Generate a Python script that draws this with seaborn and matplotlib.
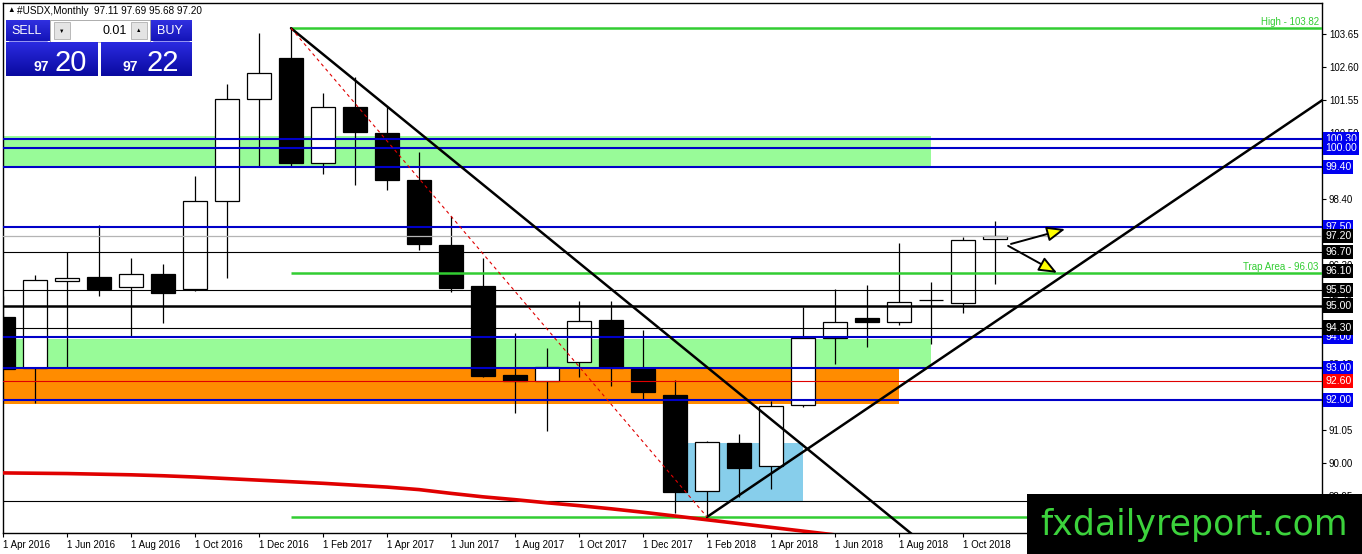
import numpy as np
import pandas as pd
import matplotlib
matplotlib.use("Agg")
import matplotlib.pyplot as plt
import seaborn as sns
from matplotlib.patches import Rectangle
from matplotlib.colors import LinearSegmentedColormap

# USDX monthly candles, index 0 = Apr 2016 ... 31 = Nov 2018
opens  = [94.64, 93.00, 95.78, 95.91, 95.60, 96.01, 95.53, 98.33, 101.57, 102.88, 99.54, 101.32,
          100.49, 99.00, 96.93, 95.63, 92.80, 92.61, 93.21, 94.54, 92.99, 92.16, 89.11, 90.63,
          89.90, 91.84, 93.97, 94.61, 94.48, 95.18, 95.09, 97.11]
highs  = [95.30, 95.98, 96.70, 97.55, 96.52, 96.33, 99.12, 102.05, 103.67, 103.82, 101.76, 102.27,
          101.35, 99.89, 97.85, 96.52, 94.13, 93.65, 95.15, 95.15, 94.23, 92.64, 90.70, 90.92,
          91.97, 94.96, 95.53, 95.66, 97.00, 95.75, 97.18, 97.69]
lows   = [92.99, 91.90, 93.00, 95.30, 94.04, 94.45, 95.45, 95.88, 99.44, 99.44, 99.19, 98.84,
          98.68, 96.77, 95.43, 92.73, 91.59, 91.00, 92.73, 92.45, 92.03, 88.41, 88.28, 88.92,
          89.17, 91.78, 93.15, 93.69, 94.39, 93.78, 94.77, 95.68]
closes = [92.99, 95.82, 95.88, 95.53, 96.01, 95.40, 98.33, 101.57, 102.40, 99.54, 101.32, 100.52,
          99.00, 96.96, 95.56, 92.76, 92.61, 93.05, 94.51, 93.02, 92.26, 89.08, 90.67, 89.84,
          91.81, 93.97, 94.48, 94.48, 95.12, 95.18, 97.09, 97.20]

tick_months = [0, 2, 4, 6, 8, 10, 12, 14, 16, 18, 20, 22, 24, 26, 28, 30]
tick_labels = ['1 Apr 2016', '1 Jun 2016', '1 Aug 2016', '1 Oct 2016', '1 Dec 2016',
               '1 Feb 2017', '1 Apr 2017', '1 Jun 2017', '1 Aug 2017', '1 Oct 2017',
               '1 Dec 2017', '1 Feb 2018', '1 Apr 2018', '1 Jun 2018', '1 Aug 2018',
               '1 Oct 2018']
price_ticks = [88.95, 90.00, 91.05, 92.10, 93.15, 94.20, 95.25, 96.30, 97.35, 98.40,
               99.45, 100.50, 101.55, 102.60, 103.65]

# moving average (red curve)
ma_month = list(range(27))
ma_value = [89.68, 89.67, 89.66, 89.64, 89.62, 89.59, 89.55, 89.50, 89.45, 89.40, 89.35,
            89.29, 89.23, 89.15, 89.03, 88.92, 88.83, 88.73, 88.64, 88.54, 88.43, 88.31,
            88.19, 88.07, 87.95, 87.83, 87.71]

# horizontal levels
blue_levels = [100.30, 100.00, 99.40, 97.50, 94.00, 93.00, 92.00]
black_levels = [96.70, 95.50, 94.30, 88.80]
thick_level = 95.00
gray_level = 97.20
red_level = 92.60
green_levels = [103.82, 96.03, 88.28]   # start at Jan 2017

# right side price labels
blue_boxes = [100.30, 100.00, 99.40, 97.50, 94.00, 93.00, 92.00]
black_boxes = [97.20, 96.70, 96.10, 95.50, 95.00, 94.30]
red_boxes = [92.60]

# zones: (month from, month to, price low, price high, colour)
zones = [(-0.5, 29.0, 99.40, 100.40, '#98FB98'),
         (-0.5, 29.0, 93.00, 93.95, '#98FB98'),
         (-0.5, 28.0, 91.87, 93.00, '#FF8C00'),
         (21.0, 25.0, 88.79, 90.63, '#87CEEB')]

# trendlines (month, price) pairs
down_line = [(9, 103.82), (29, 87.24)]
up_line = [(22, 88.28), (41.3, 101.58)]
dash_line = [(9, 103.82), (22, 88.28)]
arrows = [((31.5, 96.96), (33.19, 97.43)), ((31.41, 96.90), (32.94, 96.04))]

sns.set_style("white")
plt.rcParams['font.family'] = ['Liberation Sans', 'DejaVu Sans']

W, H = 1362, 554
fig = plt.figure(figsize=(W / 100, H / 100), dpi=100)
ax = fig.add_axes([3 / W, 21 / H, 1319 / W, 530 / H])

# zones behind everything
for x0, x1, y0, y1, col in zones:
    ax.fill_between([x0, x1], y0, y1, color=col, lw=0, zorder=1)

# candles
df = pd.DataFrame({'o': opens, 'h': highs, 'l': lows, 'c': closes})
df['bottom'] = df[['o', 'c']].min(axis=1)
df['height'] = (df['c'] - df['o']).abs()
df['face'] = np.where(df['c'] >= df['o'], 'white', 'black')
ax.vlines(df.index, df['l'], df['h'], color='black', lw=0.9, zorder=3)
ax.bar(df.index, df['height'], bottom=df['bottom'], width=0.76, color=df['face'],
       edgecolor='black', linewidth=0.9, zorder=4)

# levels
xmax = 1319 / 32
for p in blue_levels:
    ax.axhline(p, color='#0000C8', lw=1.5, zorder=5)
for p in black_levels:
    ax.axhline(p, color='black', lw=0.8, zorder=5)
ax.axhline(thick_level, color='black', lw=1.8, zorder=5)
ax.axhline(gray_level, color='#B4B4B4', lw=0.9, zorder=5)
ax.axhline(red_level, color='#E00000', lw=0.8, zorder=5)
for p in green_levels:
    ax.hlines(p, 9, xmax, color='#32CD32', lw=1.8, zorder=5)

ax.annotate('High - 103.82', xy=(xmax - 0.1, 103.82), xytext=(0, 1), textcoords='offset points',
            ha='right', va='bottom', color='#32CD32', fontsize=7, zorder=8)
ax.annotate('Trap Area - 96.03', xy=(xmax - 0.1, 96.03), xytext=(0, 1), textcoords='offset points',
            ha='right', va='bottom', color='#32CD32', fontsize=7, zorder=8)

# moving average
sns.lineplot(x=ma_month, y=ma_value, ax=ax, color='#E00000', lw=2.6, zorder=6, legend=False)

# trendlines
for pts, kw in [(down_line, dict(color='black', lw=1.8)),
                (up_line, dict(color='black', lw=1.8)),
                (dash_line, dict(color='#E00000', lw=0.8, dashes=(3, 3)))]:
    xs, ys = zip(*pts)
    ax.plot(xs, ys, zorder=7, **kw)

for start, end in arrows:
    ax.annotate('', xy=end, xytext=start,
                arrowprops=dict(arrowstyle='-|>,head_length=1.1,head_width=0.45',
                                fc='#FFFF00', ec='black', lw=1.4, mutation_scale=10,
                                shrinkA=0, shrinkB=0),
                zorder=8)

# axes
ax.set_xlim(0, xmax)
ax.set_ylim(87.77, 104.62)
ax.yaxis.tick_right()
ax.set_yticks(price_ticks)
ax.set_yticklabels([f'{p:.2f}' for p in price_ticks])
ax.set_xticks(tick_months)
ax.set_xticklabels(tick_labels)
for lab in ax.get_xticklabels():
    lab.set_horizontalalignment('left')
ax.tick_params(axis='both', labelsize=7, length=3, width=0.8, direction='out',
               color='black', labelcolor='black', pad=2)
ax.tick_params(axis='y', right=True, left=False)
ax.tick_params(axis='x', bottom=True)
for s in ax.spines.values():
    s.set_color('black')
    s.set_linewidth(1)
ax.grid(False)

# price label boxes on the right
ytr = ax.get_yaxis_transform()
for boxes, col in [(blue_boxes, '#0000F0'), (black_boxes, 'black'), (red_boxes, '#FF0000')]:
    for p in boxes:
        ax.text(1.0 + 3 / 1319, p, f'{p:.2f}', transform=ytr, ha='left', va='center',
                color='white', fontsize=7.6, clip_on=False, zorder=20,
                bbox=dict(boxstyle='square,pad=0.2', fc=col, ec='none'))

# overlay in pixel coordinates: trade panel, header, watermark
ov = fig.add_axes([0, 0, 1, 1], zorder=10)
ov.patch.set_alpha(0)
ov.axis('off')

def grad_box(x0, y0, x1, y1, top, bot):
    cmap = LinearSegmentedColormap.from_list('g', [top, bot])
    ov.imshow(np.linspace(0, 1, 40).reshape(-1, 1), cmap=cmap, aspect='auto',
              extent=[x0, x1, y1, y0], zorder=2)

ov.text(7, 11, '\u25B2', fontsize=5.5, ha='left', va='center', color='black')
ov.text(17, 11, '#USDX,Monthly  97.11 97.69 95.68 97.20', fontsize=7.2, ha='left',
        va='center', color='black')

grad_box(6, 20, 50, 41, '#3030E0', '#1414B8')
grad_box(150, 20, 192, 41, '#3030E0', '#1414B8')
ov.add_patch(Rectangle((50, 20), 100, 22, fc='white', ec='#A0A0A0', lw=0.6, zorder=2))
ov.add_patch(Rectangle((54, 22), 16, 17, fc='#E4E4E4', ec='#B0B0B0', lw=0.6, zorder=3))
ov.add_patch(Rectangle((131, 22), 16, 17, fc='#E4E4E4', ec='#B0B0B0', lw=0.6, zorder=3))
ov.text(62, 31, '\u25BC', fontsize=4, ha='center', va='center', color='black', zorder=4)
ov.text(139, 30, '\u25B2', fontsize=4, ha='center', va='center', color='black', zorder=4)
ov.text(127, 31, '0.01', fontsize=9, ha='right', va='center', color='black', zorder=4)
ov.text(27, 31, 'SELL', fontsize=9, ha='center', va='center', color='white', zorder=4)
ov.text(170, 31, 'BUY', fontsize=9, ha='center', va='center', color='white', zorder=4)
ov.plot([9, 47], [41, 41], color='#8080F0', lw=0.6, zorder=4)
ov.plot([153, 189], [41, 41], color='#8080F0', lw=0.6, zorder=4)

grad_box(6, 42, 98, 76, '#2A2AE0', '#0A0AA0')
grad_box(101, 42, 192, 76, '#2A2AE0', '#0A0AA0')
ov.text(49, 71, '97', fontsize=10, ha='right', va='baseline', color='white',
        fontweight='bold', zorder=4)
ov.text(55, 71, '20', fontsize=21, ha='left', va='baseline', color='white', zorder=4)
ov.text(138, 71, '97', fontsize=10, ha='right', va='baseline', color='white',
        fontweight='bold', zorder=4)
ov.text(146, 71, '22', fontsize=21, ha='left', va='baseline', color='white', zorder=4)

ov.add_patch(Rectangle((1027, 494), 335, 60, fc='black', ec='none', zorder=5))
ov.text(1040, 535, 'fxdailyreport.com', fontsize=25, ha='left', va='baseline',
        color='#3CD23C', family='DejaVu Sans', zorder=6)

ov.set_xlim(0, W)
ov.set_ylim(H, 0)

fig.savefig('out.png', dpi=100)
